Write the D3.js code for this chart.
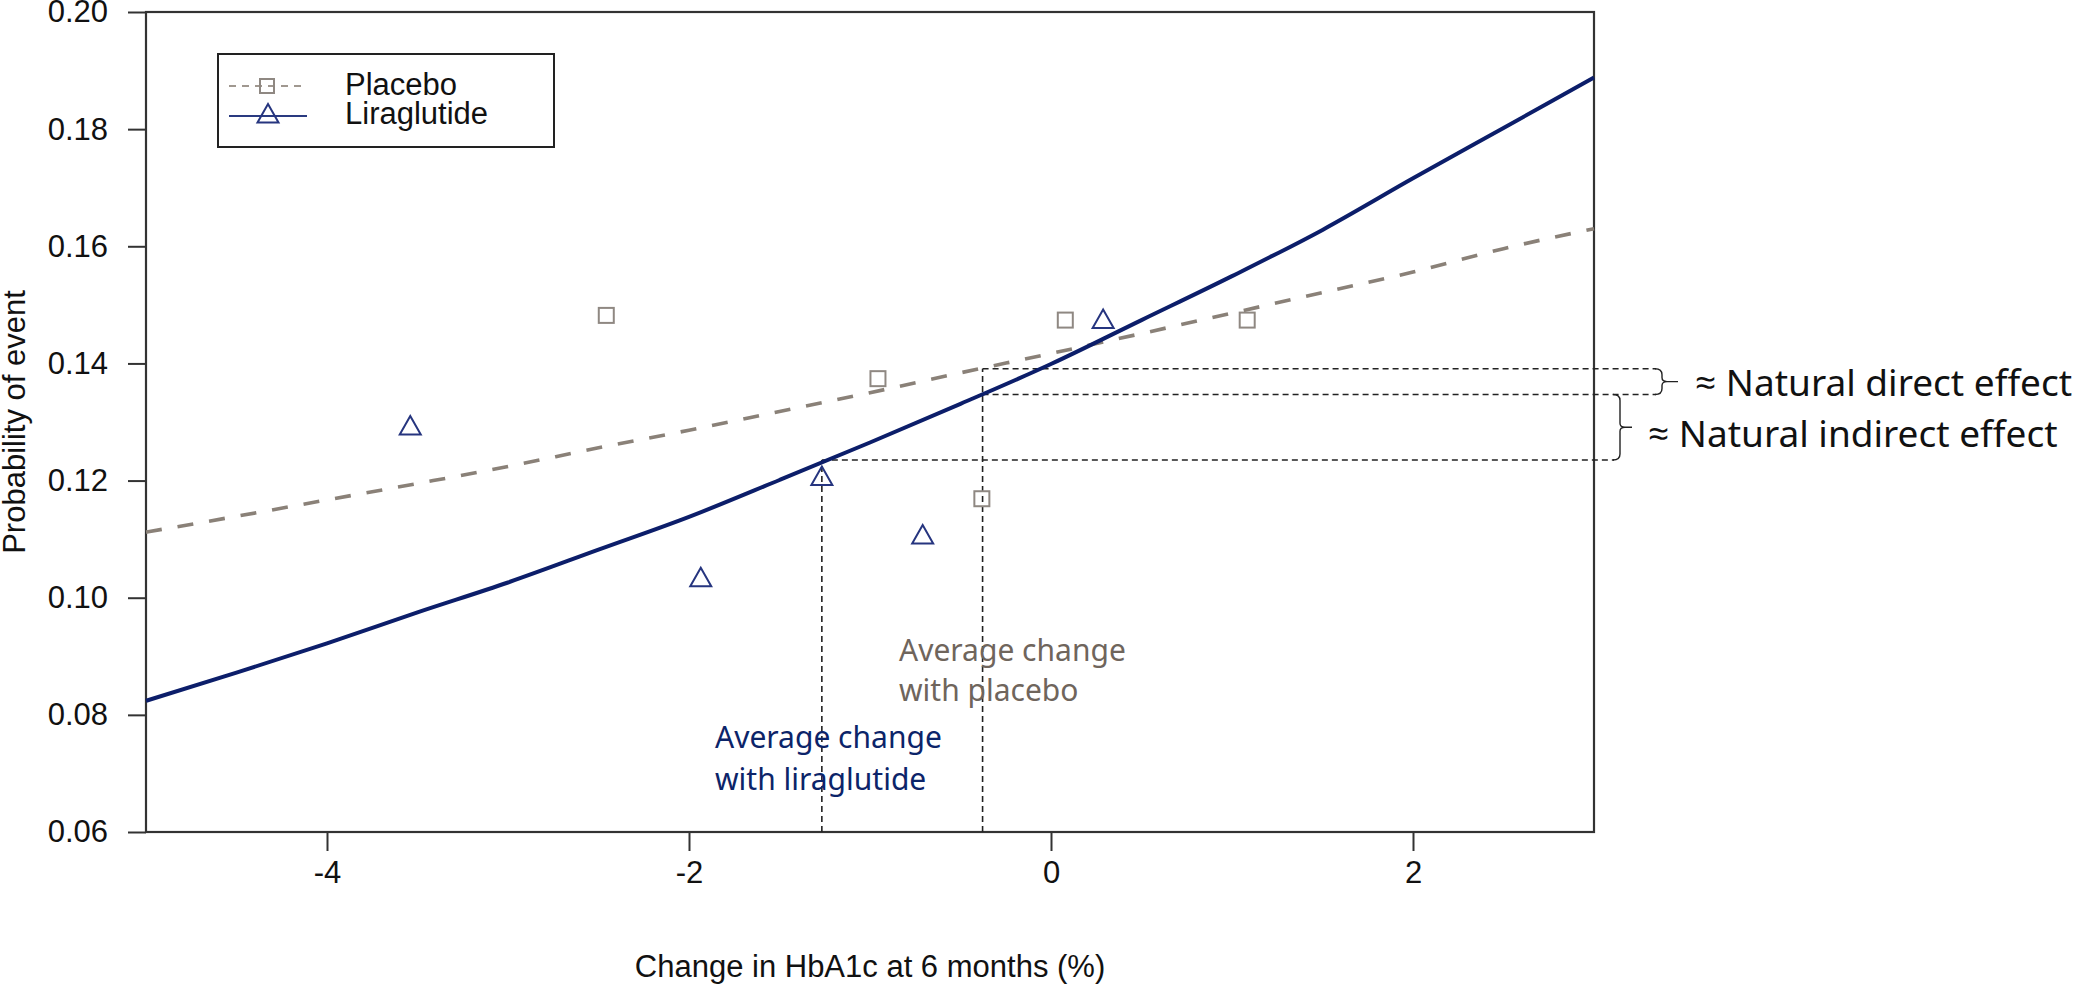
<!DOCTYPE html>
<html>
<head>
<meta charset="utf-8">
<script src="https://cdn.jsdelivr.net/npm/d3@7/dist/d3.min.js"></script>
<style>
  html, body { margin: 0; padding: 0; background: #fff; }
  svg { display: block; }
</style>
</head>
<body>
<svg id="chart" width="2074" height="986"></svg>
<script>
// Fitted probability curves, sampled along the HbA1c change axis
const curveX = [-5, -4.5, -4, -3.5, -3, -2.5, -2, -1.5, -1, -0.5, 0, 0.5, 1, 1.5, 2, 2.5, 3];
const placeboCurve = [0.1112, 0.1139, 0.1167, 0.1195, 0.1224, 0.1256, 0.1286, 0.1318, 0.1350, 0.1384, 0.1417, 0.1451, 0.1486, 0.1521, 0.1556, 0.1596, 0.1630];
const liraglutideCurve = [0.0824, 0.0872, 0.0922, 0.0975, 0.1026, 0.1082, 0.1138, 0.1201, 0.1265, 0.1331, 0.1399, 0.1474, 0.1549, 0.1628, 0.1716, 0.1802, 0.1888];

// Observed group points
const placeboPtsX = [-2.457, -0.956, -0.382, 0.079, 1.084];
const placeboPtsY = [0.1482, 0.1374, 0.1169, 0.1474, 0.1474];
const liraPtsX = [-3.540, -1.935, -1.266, -0.709, 0.288];
const liraPtsY = [0.1293, 0.1034, 0.1207, 0.1107, 0.1475];

// Average HbA1c change per arm and the probabilities read at those changes
const meanChangeLira = -1.266;
const meanChangePlacebo = -0.378;
const probPlaceboAtPlaceboMean = 0.1391;
const probLiraAtPlaceboMean = 0.1347;
const probLiraAtLiraMean = 0.1235;

// Axis ticks
const xTicks = [-4, -2, 0, 2];
const yTicks = [0.06, 0.08, 0.10, 0.12, 0.14, 0.16, 0.18, 0.20];

const seriesNames = ["Placebo", "Liraglutide"];

const colLira = "#0c1e6a";
const colLiraMark = "#26357f";
const colPla = "#8a8178";
const colPlaMark = "#8f8882";
const axisCol = "#333";
const axisFont = "'Liberation Sans', Arial, sans-serif";
const noteFont = "'Noto Sans', 'Open Sans', sans-serif";

const svg = d3.select("#chart");
const x = d3.scaleLinear().domain([-5, 3]).range([146, 1594]);
const y = d3.scaleLinear().domain([0.06, 0.20]).range([832, 12]);

// Axes
const xAxis = d3.axisBottom(x).tickValues(xTicks).tickSize(19).tickPadding(10)
  .tickFormat(d => d3.format("d")(d).replace("−", "-"));
const gx = svg.append("g").attr("transform", `translate(0,${y(0.06)})`).call(xAxis);
gx.select(".domain").remove();
gx.selectAll(".tick line").attr("stroke", axisCol).attr("stroke-width", 2);
gx.selectAll(".tick text").attr("font-family", axisFont).attr("font-size", 31).attr("fill", "#111");

const yAxis = d3.axisLeft(y).tickValues(yTicks).tickSize(18).tickPadding(20).tickFormat(d3.format(".2f"));
const gy = svg.append("g").attr("transform", `translate(${x(-5)},0)`).call(yAxis);
gy.select(".domain").remove();
gy.selectAll(".tick line").attr("stroke", axisCol).attr("stroke-width", 2);
gy.selectAll(".tick text").attr("font-family", axisFont).attr("font-size", 31).attr("fill", "#111");

// Plot frame
svg.append("rect")
  .attr("x", x(-5)).attr("y", y(0.20))
  .attr("width", x(3) - x(-5)).attr("height", y(0.06) - y(0.20))
  .attr("fill", "none").attr("stroke", axisCol).attr("stroke-width", 2.2);

// Axis titles
svg.append("text")
  .attr("x", (x(-5) + x(3)) / 2).attr("y", 977)
  .attr("text-anchor", "middle").attr("font-family", axisFont).attr("font-size", 31).attr("fill", "#111")
  .text("Change in HbA1c at 6 months (%)");
svg.append("text")
  .attr("transform", `translate(25,${(y(0.06) + y(0.20)) / 2}) rotate(-90)`)
  .attr("text-anchor", "middle").attr("font-family", axisFont).attr("font-size", 31).attr("fill", "#111")
  .text("Probability of event");

// Reference lines for the average change in each arm
const refG = svg.append("g").attr("stroke", "#222").attr("stroke-width", 1.6)
  .attr("stroke-dasharray", "6,4").attr("fill", "none");
const braceDirectX = 1662, braceIndirectX = 1620;
refG.append("line")
  .attr("x1", x(meanChangeLira)).attr("x2", x(meanChangeLira))
  .attr("y1", y(0.06)).attr("y2", y(probLiraAtLiraMean));
refG.append("line")
  .attr("x1", x(meanChangePlacebo)).attr("x2", x(meanChangePlacebo))
  .attr("y1", y(0.06)).attr("y2", y(probPlaceboAtPlaceboMean));
refG.append("line")
  .attr("x1", x(meanChangePlacebo)).attr("x2", braceDirectX - 6)
  .attr("y1", y(probPlaceboAtPlaceboMean)).attr("y2", y(probPlaceboAtPlaceboMean));
refG.append("line")
  .attr("x1", x(meanChangePlacebo)).attr("x2", braceDirectX - 6)
  .attr("y1", y(probLiraAtPlaceboMean)).attr("y2", y(probLiraAtPlaceboMean));
refG.append("line")
  .attr("x1", x(meanChangeLira)).attr("x2", braceIndirectX - 6)
  .attr("y1", y(probLiraAtLiraMean)).attr("y2", y(probLiraAtLiraMean));

// Curly braces marking the two effects
function brace(bx, y0, y1, tip) {
  const m = (y0 + y1) / 2;
  return `M${bx - 7},${y0} Q${bx},${y0} ${bx},${y0 + 6} L${bx},${m - 4} Q${bx},${m} ${bx + 5},${m} L${bx + tip},${m}` +
         ` M${bx + 5},${m} Q${bx},${m} ${bx},${m + 4} L${bx},${y1 - 6} Q${bx},${y1} ${bx - 7},${y1}`;
}
svg.append("path")
  .attr("d", brace(braceDirectX, y(probPlaceboAtPlaceboMean), y(probLiraAtPlaceboMean), 16))
  .attr("fill", "none").attr("stroke", "#222").attr("stroke-width", 1.4);
svg.append("path")
  .attr("d", brace(braceIndirectX, y(probLiraAtPlaceboMean), y(probLiraAtLiraMean), 12))
  .attr("fill", "none").attr("stroke", "#222").attr("stroke-width", 1.4);

svg.append("text").attr("x", 1695).attr("y", 396)
  .attr("font-family", noteFont).attr("font-size", 37).attr("fill", "#111")
  .text("≈ Natural direct effect");
svg.append("text").attr("x", 1648).attr("y", 447)
  .attr("font-family", noteFont).attr("font-size", 37).attr("fill", "#111")
  .text("≈ Natural indirect effect");

// Curves
const line = d3.line().x(d => x(d[0])).y(d => y(d[1])).curve(d3.curveMonotoneX);
svg.append("path")
  .datum(curveX.map((v, i) => [v, placeboCurve[i]]))
  .attr("d", line).attr("fill", "none").attr("stroke", colPla)
  .attr("stroke-width", 3.6).attr("stroke-dasharray", "16,16");
svg.append("path")
  .datum(curveX.map((v, i) => [v, liraglutideCurve[i]]))
  .attr("d", line).attr("fill", "none").attr("stroke", colLira)
  .attr("stroke-width", 4);

// Point markers: open squares and open triangles
const sq = 15;
svg.append("g").selectAll("rect").data(placeboPtsX.map((v, i) => [v, placeboPtsY[i]])).join("rect")
  .attr("x", d => x(d[0]) - sq / 2).attr("y", d => y(d[1]) - sq / 2)
  .attr("width", sq).attr("height", sq)
  .attr("fill", "none").attr("stroke", colPlaMark).attr("stroke-width", 2);

const triPath = "M0,-10 L10.5,8.5 L-10.5,8.5 Z";
svg.append("g").selectAll("path").data(liraPtsX.map((v, i) => [v, liraPtsY[i]])).join("path")
  .attr("d", triPath).attr("transform", d => `translate(${x(d[0])},${y(d[1])})`)
  .attr("fill", "none").attr("stroke", colLiraMark).attr("stroke-width", 2);

// Notes at the bottom
const liraNote = svg.append("text").attr("font-family", noteFont).attr("font-size", 30).attr("fill", "#0c2469");
liraNote.append("tspan").attr("x", 715).attr("y", 748).text("Average change");
liraNote.append("tspan").attr("x", 715).attr("y", 790).text("with liraglutide");
const plaNote = svg.append("text").attr("font-family", noteFont).attr("font-size", 30).attr("fill", "#6f655c");
plaNote.append("tspan").attr("x", 899).attr("y", 661).text("Average change");
plaNote.append("tspan").attr("x", 899).attr("y", 701).text("with placebo");

// Legend
const lg = svg.append("g");
lg.append("rect").attr("x", 218).attr("y", 54).attr("width", 336).attr("height", 93)
  .attr("fill", "#fff").attr("stroke", "#222").attr("stroke-width", 2);
lg.append("line").attr("x1", 229).attr("x2", 303).attr("y1", 86).attr("y2", 86)
  .attr("stroke", "#a09890").attr("stroke-width", 2).attr("stroke-dasharray", "7,6");
lg.append("rect").attr("x", 267 - 7).attr("y", 86 - 7).attr("width", 14).attr("height", 14)
  .attr("fill", "none").attr("stroke", colPlaMark).attr("stroke-width", 2);
lg.append("line").attr("x1", 229).attr("x2", 307).attr("y1", 116).attr("y2", 116)
  .attr("stroke", "#2a3a80").attr("stroke-width", 2);
lg.append("path").attr("d", triPath).attr("transform", "translate(268,114)")
  .attr("fill", "none").attr("stroke", colLiraMark).attr("stroke-width", 2);
lg.selectAll("text.lab").data(seriesNames).join("text").attr("class", "lab")
  .attr("x", 345).attr("y", (d, i) => 95 + i * 29)
  .attr("font-family", axisFont).attr("font-size", 31).attr("fill", "#111")
  .text(d => d);
</script>
</body>
</html>
